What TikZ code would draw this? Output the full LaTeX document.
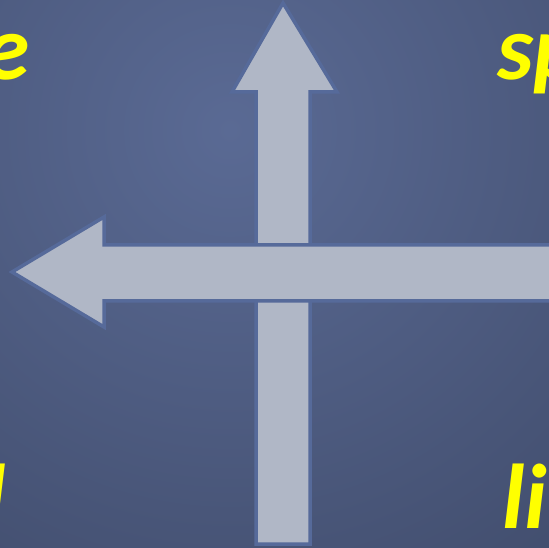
\documentclass[tikz,border=0pt]{standalone}
\usepackage{fontspec}
\setmainfont{Carlito}
\definecolor{bginner}{RGB}{90,106,148}
\definecolor{bgouter}{RGB}{42,50,72}
\definecolor{arrowfill}{RGB}{176,183,198}
\definecolor{arrowline}{RGB}{86,106,154}
\definecolor{labelyellow}{RGB}{255,255,0}
\tikzset{
  bigarrow/.style={fill=arrowfill,draw=arrowline,line width=3.5pt,line join=miter},
  corner/.style={text=labelyellow,font=\fontsize{92}{92}\selectfont\bfseries\itshape,inner sep=0pt}
}
\begin{document}
\begin{tikzpicture}[x=1pt,y=1pt]
\useasboundingbox (0,0) rectangle (549,547);
\clip (0,0) rectangle (549,547);
% background radial gradient, light centre upper middle
\shade[inner color=bginner,outer color=bgouter] (230,417) circle (1080);
% vertical arrow pointing up
\draw[bigarrow] (256,3) -- (256,455) -- (232,455) -- (283,544) -- (337,455) -- (310,455) -- (310,3) -- cycle;
% horizontal arrow pointing left
\draw[bigarrow] (560,302) -- (104,302) -- (104,330) -- (12,275) -- (104,220) -- (104,246) -- (560,246);
% corner labels (cut by the page edge)
\node[corner,anchor=base east] (tl) at (30,467) {e};
\node[corner,anchor=base west] (tr) at (497,467) {sp};
\node[corner,anchor=base east] (bl) at (6,19) {l};
\node[corner,anchor=base west] (br) at (502,19) {li};
\end{tikzpicture}
\end{document}
